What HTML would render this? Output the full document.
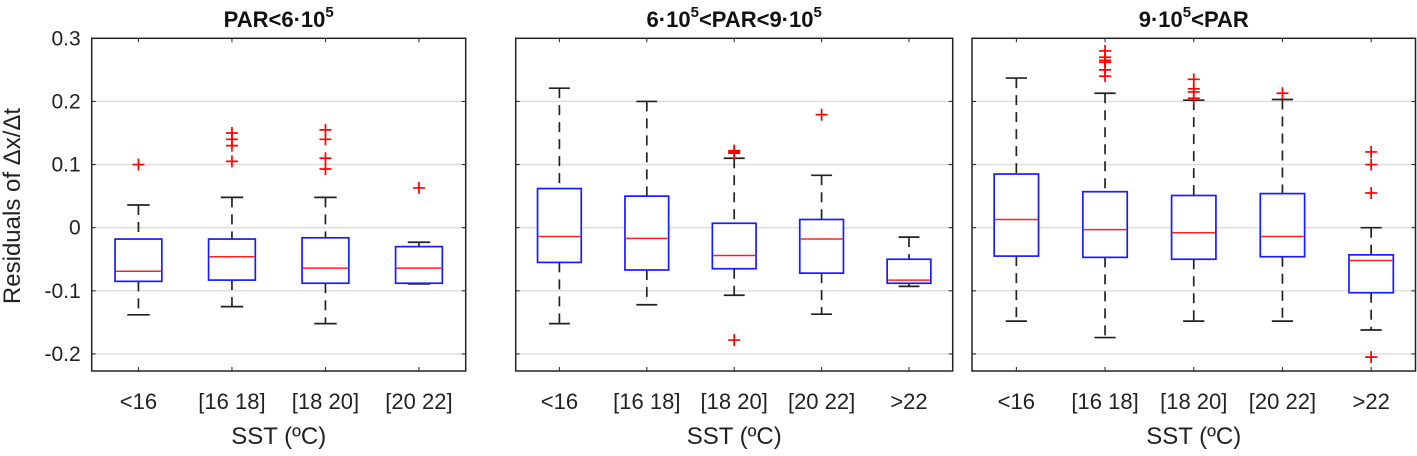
<!DOCTYPE html>
<html><head><meta charset="utf-8"><style>
html,body{margin:0;padding:0;background:#fff;}
svg{display:block;font-family:"Liberation Sans",Arial,sans-serif;}
</style></head><body>
<svg id="chart" width="1417" height="456" viewBox="0 0 1417 456"></svg>
<script>
const panelTitles = [["PAR<6·10","5",""],["6·10","5","<PAR<9·10","5"],["9·10","5","<PAR"]];
const cats1 = ["<16","[16 18]","[18 20]","[20 22]"];
const cats2 = ["<16","[16 18]","[18 20]","[20 22]",">22"];
const cats3 = ["<16","[16 18]","[18 20]","[20 22]",">22"];
const yTicks = [0.3,0.2,0.1,0,-0.1,-0.2];
const yTickLabels = ["0.3","0.2","0.1","0","-0.1","-0.2"];
// each: [whiskerHigh, q3, median, q1, whiskerLow]
const stats1 = [[0.036,-0.018,-0.069,-0.085,-0.138],[0.048,-0.018,-0.046,-0.083,-0.125],[0.048,-0.016,-0.064,-0.088,-0.152],[-0.023,-0.030,-0.064,-0.088,-0.089]];
const out1 = [[0.1],[0.105,0.13,0.14,0.15],[0.093,0.11,0.14,0.155],[0.063]];
const stats2 = [[0.221,0.062,-0.014,-0.055,-0.152],[0.2,0.05,-0.017,-0.067,-0.122],[0.11,0.007,-0.044,-0.065,-0.107],[0.083,0.013,-0.018,-0.072,-0.137],[-0.015,-0.050,-0.083,-0.088,-0.093]];
const out2 = [[],[],[0.118,0.12,0.122,-0.178],[0.179],[]];
const stats3 = [[0.237,0.085,0.013,-0.045,-0.148],[0.213,0.057,-0.003,-0.047,-0.174],[0.202,0.051,-0.008,-0.05,-0.148],[0.203,0.054,-0.014,-0.046,-0.148],[0.0,-0.043,-0.052,-0.103,-0.162]];
const out3 = [[],[0.24,0.25,0.262,0.265,0.27,0.28],[0.205,0.215,0.22,0.235],[0.213],[0.12,0.1,0.055,-0.205]];

const NS="http://www.w3.org/2000/svg";
const svg=document.getElementById('chart');
function mk(tag,attrs,parent){const e=document.createElementNS(NS,tag);for(const k in attrs)e.setAttribute(k,attrs[k]);(parent||svg).appendChild(e);return e;}
const yMin=-0.227,yMax=0.3,pTop=38.3,pBot=371;
function yS(v){return pBot-(v-yMin)/(yMax-yMin)*(pBot-pTop);}

const panels=[
 {x0:91.7,x1:465.7,cats:cats1,stats:stats1,outs:out1,title:panelTitles[0]},
 {x0:515.7,x1:952.7,cats:cats2,stats:stats2,outs:out2,title:panelTitles[1]},
 {x0:972,x1:1415.5,cats:cats3,stats:stats3,outs:out3,title:panelTitles[2]}
];
panels.forEach((p,pi)=>{
  const g=mk('g',{});
  
  
  const n=p.cats.length, w=(p.x1-p.x0)/n;
  const xS=i=>p.x0+(i+0.5)*w;
  yTicks.forEach(t=>{
    const l=mk('line',{x1:p.x0,x2:p.x1,y1:yS(t),y2:yS(t),stroke:'#dcdcdc','stroke-width':1.3},g);
    
    
    mk('line',{x1:p.x0,x2:p.x0+4,y1:yS(t),y2:yS(t),stroke:'#222','stroke-width':1},g);
    mk('line',{x1:p.x1-4,x2:p.x1,y1:yS(t),y2:yS(t),stroke:'#222','stroke-width':1},g);
  });
  if(pi===0){
    yTicks.forEach((t,i)=>{
      const tx=mk('text',{x:p.x0-11,y:yS(t)+7,'text-anchor':'end','font-size':21,fill:'#222'},g);
      tx.textContent=yTickLabels[i];
      
      
    });
  }
  p.cats.forEach((c,i)=>{
    const x=xS(i);
    mk('line',{x1:x,x2:x,y1:pTop,y2:pTop+4,stroke:'#222','stroke-width':1},g);
    mk('line',{x1:x,x2:x,y1:pBot-4,y2:pBot,stroke:'#222','stroke-width':1},g);
    const tx=mk('text',{x:x,y:409,'text-anchor':'middle','font-size':22,fill:'#222'},g);
    tx.textContent=c;
    
    
    const s=p.stats[i];
    const bg=mk('g',{},g);
    
    
    const bh=0.25*w, ch=0.12*w;
    mk('line',{x1:x,x2:x,y1:yS(s[0]),y2:yS(s[1]),stroke:'#222','stroke-width':1.7,'stroke-dasharray':'10,7'},bg);
    mk('line',{x1:x,x2:x,y1:yS(s[3]),y2:yS(s[4]),stroke:'#222','stroke-width':1.7,'stroke-dasharray':'10,7'},bg);
    mk('line',{x1:x-ch,x2:x+ch,y1:yS(s[0]),y2:yS(s[0]),stroke:'#222','stroke-width':1.7},bg);
    mk('line',{x1:x-ch,x2:x+ch,y1:yS(s[4]),y2:yS(s[4]),stroke:'#222','stroke-width':1.7},bg);
    mk('rect',{x:x-bh,y:yS(s[1]),width:2*bh,height:yS(s[3])-yS(s[1]),fill:'#fff',stroke:'#1a1aff','stroke-width':1.7},bg);
    mk('line',{x1:x-bh+1,x2:x+bh-1,y1:yS(s[2]),y2:yS(s[2]),stroke:'#ff2020','stroke-width':1.5},bg);
    p.outs[i].forEach(o=>{
      const y=yS(o);
      const pl=mk('path',{d:`M${x-6},${y}H${x+6}M${x},${y-6}V${y+6}`,stroke:'#ff0000','stroke-width':1.7,fill:'none'},bg);
      
      
    });
  });
  const fr=mk('rect',{x:p.x0,y:pTop,width:p.x1-p.x0,height:pBot-pTop,fill:'none',stroke:'#222','stroke-width':1.5},g);
  
  
  const cx=(p.x0+p.x1)/2;
  const tt=mk('text',{x:cx,y:27,'text-anchor':'middle','font-size':22,'font-weight':'bold',fill:'#111'},g);
  
  
  p.title.forEach((part,k)=>{
    const ts=mk('tspan',{},tt);
    if(k%2===1){ts.setAttribute('dy','-10');ts.setAttribute('font-size','15');}
    else if(k>0){ts.setAttribute('dy','10');}
    ts.textContent=part;
  });
  const xl=mk('text',{x:cx,y:444,'text-anchor':'middle','font-size':24,fill:'#222'},g);
  xl.textContent='SST (ºC)';
  
  
});
const yl=mk('text',{x:0,y:0,'text-anchor':'middle','font-size':24,fill:'#222',transform:'translate(20,206) rotate(-90)'});
yl.textContent='Residuals of Δx/Δt';


</script>
</body></html>
